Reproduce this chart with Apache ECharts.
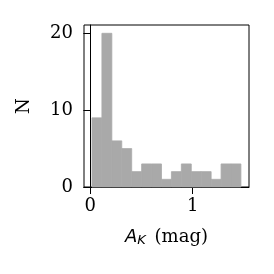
<!DOCTYPE html>
<html><head><meta charset="utf-8">
<script src="https://cdn.jsdelivr.net/npm/echarts@6/dist/echarts.min.js"></script>
<style>html,body{margin:0;padding:0;background:#fff}#c{width:274px;height:274px}</style>
</head><body><div id="c"></div>
<script>
const binEdges = [0.016, 0.113, 0.210, 0.307, 0.404, 0.501, 0.598, 0.695, 0.792, 0.889, 0.986, 1.083, 1.180, 1.277, 1.374, 1.471];
const counts = [9, 20, 6, 5, 2, 3, 3, 1, 2, 3, 2, 2, 1, 3, 3];
const xTicks = [0, 1];
const yTicks = [0, 10, 20];

const data = counts.map((c, i) => [binEdges[i], binEdges[i + 1], c]);
const chart = echarts.init(document.getElementById('c'), null, {renderer: 'canvas'});
const serif = 'DejaVu Serif';
chart.setOption({
  animation: false,
  grid: {left: 84, right: 25, top: 25, bottom: 87, show: true, borderColor: '#000', borderWidth: 1, backgroundColor: 'transparent'},
  xAxis: {
    type: 'value', min: -0.062, max: 1.55,
    splitLine: {show: false},
    axisLine: {show: true, onZero: false, lineStyle: {color: '#000', width: 1}},
    axisTick: {show: true, length: 7, lineStyle: {color: '#000'}, customValues: xTicks},
    axisLabel: {show: true, customValues: xTicks, fontFamily: serif, fontSize: 18, color: '#000', margin: 10},
    name: '{a|A}{k|K}{m| (mag)}',
    nameLocation: 'middle', nameGap: 40,
    nameTextStyle: {
      rich: {
        a: {fontFamily: 'DejaVu Sans', fontStyle: 'italic', fontSize: 18, color: '#000'},
        k: {fontFamily: 'DejaVu Sans', fontStyle: 'italic', fontSize: 13, color: '#000', verticalAlign: 'bottom', padding: [7, 3, 0, 0]},
        m: {fontFamily: serif, fontSize: 18, color: '#000'}
      }
    }
  },
  yAxis: {
    type: 'value', min: 0, max: 21.08,
    splitLine: {show: false},
    axisLine: {show: true, lineStyle: {color: '#000', width: 1}},
    axisTick: {show: true, length: 7, lineStyle: {color: '#000'}, customValues: yTicks},
    axisLabel: {show: true, customValues: yTicks, fontFamily: serif, fontSize: 18, color: '#000', margin: 11},
    name: 'N', nameLocation: 'middle', nameGap: 51,
    nameTextStyle: {fontFamily: serif, fontSize: 18, color: '#000'}
  },
  series: [{
    type: 'custom',
    data: data,
    encode: {x: [0, 1], y: 2},
    renderItem: function (params, api) {
      const p0 = api.coord([api.value(0), 0]);
      const p1 = api.coord([api.value(1), api.value(2)]);
      return {type: 'rect', shape: {x: p0[0], y: p1[1], width: p1[0] - p0[0], height: p0[1] - p1[1]}, style: {fill: '#a9a9a9', stroke: '#a9a9a9', lineWidth: 0.8}};
    }
  }]
});
</script></body></html>
